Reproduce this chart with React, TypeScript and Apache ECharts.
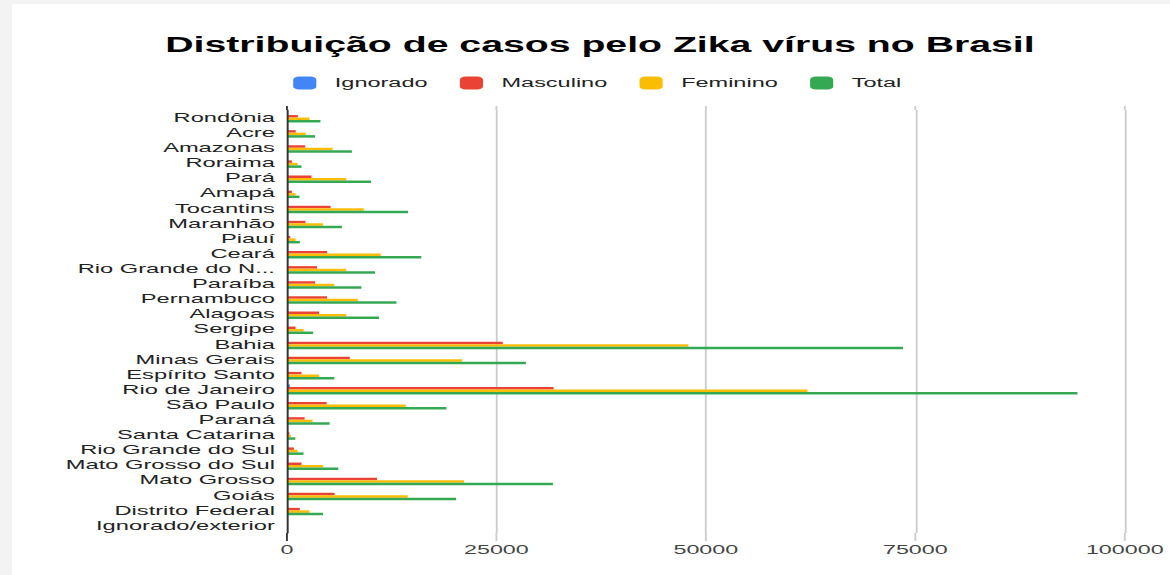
import React, { useEffect, useRef } from 'react';
import * as echarts from 'echarts';

const categories = [
  'Rondônia', 'Acre', 'Amazonas', 'Roraima', 'Pará', 'Amapá', 'Tocantins', 'Maranhão', 'Piauí',
  'Ceará', 'Rio Grande do Norte', 'Paraíba', 'Pernambuco', 'Alagoas', 'Sergipe', 'Bahia',
  'Minas Gerais', 'Espírito Santo', 'Rio de Janeiro', 'São Paulo', 'Paraná', 'Santa Catarina',
  'Rio Grande do Sul', 'Mato Grosso do Sul', 'Mato Grosso', 'Goiás', 'Distrito Federal', 'Ignorado/exterior',
];
const ignorado = [10, 10, 20, 5, 30, 5, 40, 20, 5, 60, 40, 30, 50, 40, 10, 150, 110, 40, 350, 80, 20, 5, 10, 30, 90, 60, 20, 0];
const masculino = [1300, 1050, 2180, 600, 2930, 600, 5210, 2220, 400, 4790, 3600, 3360, 4790, 3840, 1030, 25760, 7510, 1740, 31830, 4740, 2110, 300, 830, 1740, 10750, 5690, 1540, 0];
const feminino = [2700, 2250, 5450, 1270, 7070, 1030, 9170, 4310, 1030, 11190, 7070, 5650, 8460, 7070, 1980, 47910, 20900, 3840, 62130, 14180, 3050, 480, 1270, 4310, 21140, 14420, 2690, 0];
const total = [4000, 3350, 7750, 1740, 10040, 1500, 14460, 6560, 1540, 16040, 10510, 8890, 13080, 10990, 3130, 73540, 28520, 5650, 94350, 19030, 5100, 1000, 1980, 6130, 31750, 20190, 4310, 0];
const tickValues = [0, 25000, 50000, 75000, 100000];
const seriesNames = ['Ignorado', 'Masculino', 'Feminino', 'Total'];
const colors = ['#4285F4', '#EA4335', '#FBBC04', '#34A853'];

const S = 1.85;
const W = 1170 / S;
const FONT = "'Liberation Sans', Arial, sans-serif";
const GRID_TOP = 110;
const GRID_H = 423;

export default function App() {
  const ref = useRef<HTMLDivElement>(null);
  useEffect(() => {
    const chart = echarts.init(ref.current!, null, { renderer: 'svg' });
    const datasets = [ignorado, masculino, feminino, total];
    chart.setOption({
      animation: false,
      color: colors,
      textStyle: { fontFamily: FONT },
      title: {
        text: 'Distribuição de casos pelo Zika vírus no Brasil',
        left: 84.3,
        top: 29.5,
        padding: 5,
        textStyle: { fontFamily: FONT, fontSize: 21.2, fontWeight: 'bold', color: '#000' },
      },
      legend: {
        data: seriesNames,
        left: 153.5,
        top: 71.5,
        padding: 5,
        icon: 'roundRect',
        itemWidth: 12.5,
        itemHeight: 13,
        itemGap: 17.5,
        textStyle: { fontFamily: FONT, fontSize: 12.7, color: '#222', padding: [0, 0, 0, 5] },
      },
      grid: { left: 155.1, width: 460, top: GRID_TOP, height: GRID_H, containLabel: false },
      xAxis: {
        type: 'value',
        min: 0,
        max: 100000,
        interval: 25000,
        axisLine: { show: false },
        axisTick: { show: false },
        splitLine: { show: true, lineStyle: { color: '#cccccc', width: 1 } },
        axisLabel: {
          fontFamily: FONT,
          fontSize: 12.6,
          color: '#444',
          margin: 10,
          formatter: (v: number) => String(v),
        },
      },
      yAxis: {
        type: 'category',
        inverse: true,
        data: categories,
        axisLine: { show: true, lineStyle: { color: '#333', width: 1 } },
        axisTick: { show: false },
        splitLine: { show: false },
        z: 3,
        axisLabel: {
          fontFamily: FONT,
          fontSize: 12.8,
          color: '#222',
          margin: 6.5,
          interval: 0,
          formatter: (v: string) => (v.length > 18 ? v.slice(0, 15) + '...' : v),
        },
      },
      series: seriesNames.map((name, i) => ({
        name,
        type: 'bar',
        data: datasets[i],
        barWidth: 2.5,
        barGap: '0%',
        itemStyle: { color: colors[i] },
      })),
    });
    // extend gridlines / baseline slightly beyond the plot area, as in the reference
    const ext: any[] = [];
    tickValues.forEach((v) => {
      const x = chart.convertToPixel({ xAxisIndex: 0 }, v) as number;
      const stroke = v === 0 ? '#333' : '#cccccc';
      ext.push({
        type: 'line',
        shape: { x1: x, y1: GRID_TOP + GRID_H, x2: x, y2: GRID_TOP + GRID_H + 8 },
        style: { stroke, lineWidth: 1 },
        silent: true,
      });
      ext.push({
        type: 'line',
        shape: { x1: x, y1: GRID_TOP - 4, x2: x, y2: GRID_TOP },
        style: { stroke, lineWidth: 1 },
        silent: true,
      });
    });
    chart.setOption({ graphic: ext });
    return () => chart.dispose();
  }, []);
  return (
    <div style={{ position: 'fixed', left: 0, top: 0, width: 1170, height: 575, background: '#f3f3f3', overflow: 'hidden' }}>
      <div style={{ position: 'absolute', left: 12, top: 4, right: 0, bottom: 0, background: '#fff' }} />
      <div
        ref={ref}
        style={{ position: 'absolute', left: 0, top: 0, width: W, height: 575, transform: `scaleX(${S})`, transformOrigin: '0 0' }}
      />
    </div>
  );
}
